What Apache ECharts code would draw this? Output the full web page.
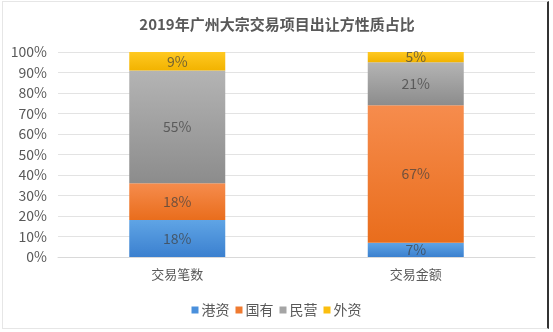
<!DOCTYPE html>
<html>
<head>
<meta charset="utf-8">
<script src="https://cdn.jsdelivr.net/npm/echarts@6/dist/echarts.min.js"></script>
<style>
  html, body { margin: 0; padding: 0; background: #fff; }
  #wrap { position: relative; width: 553px; height: 332px; overflow: hidden; }
  #chart { width: 553px; height: 332px; }
  #frame { position: absolute; left: 2px; top: 1px; width: 547px; height: 328px;
           border: 1px solid #e6e6e6; border-right: 2px solid #333; box-sizing: border-box; pointer-events: none; }
</style>
</head>
<body>
<div id="wrap">
  <div id="chart"></div>
  <div id="frame"></div>
</div>
<script>
// Categories and share (%) of each seller type
const categories = ['交易笔数', '交易金额'];
const seriesNames = ['港资', '国有', '民营', '外资'];
const hkCapital = [18, 7];
const stateOwned = [18, 67];
const privateOwned = [55, 21];
const foreignCapital = [9, 5];
const yTicks = [0, 10, 20, 30, 40, 50, 60, 70, 80, 90, 100];

const values = [hkCapital, stateOwned, privateOwned, foreignCapital];
const colorStops = [
  ['#5fa4e5', '#3b80cf'],
  ['#f68c4d', '#e96d1c'],
  ['#b4b4b4', '#8c8c8c'],
  ['#ffc922', '#f2b300']
];
const solid = ['#4a90dc', '#ef7a30', '#a5a5a5', '#fbbe0f'];
const textColor = '#595959';
const font = '"Noto Sans CJK SC", "Noto Sans", sans-serif';

const chart = echarts.init(document.getElementById('chart'), null, { renderer: 'canvas' });

const series = seriesNames.map((name, i) => ({
  name: name,
  type: 'bar',
  stack: 'total',
  barWidth: 96,
  data: values[i],
  itemStyle: {
    color: new echarts.graphic.LinearGradient(0, 0, 0, 1, [
      { offset: 0, color: colorStops[i][0] },
      { offset: 1, color: colorStops[i][1] }
    ])
  },
  emphasis: { disabled: true },
  label: {
    show: true,
    position: 'inside',
    formatter: '{c}%',
    color: 'rgba(64,64,64,0.72)',
    fontSize: 14,
    fontFamily: font
  }
}));

chart.setOption({
  animation: false,
  backgroundColor: '#fff',
  title: {
    text: '2019年广州大宗交易项目出让方性质占比',
    left: 272,
    textAlign: 'center',
    top: 12,
    textStyle: { color: textColor, fontSize: 15, fontWeight: 'bold', fontFamily: font }
  },
  legend: {
    data: seriesNames.map((n, i) => ({ name: n, itemStyle: { color: solid[i] } })),
    left: 'center',
    top: 298,
    icon: 'rect',
    itemWidth: 7,
    itemHeight: 7,
    itemGap: 6,
    textStyle: { color: textColor, fontSize: 14, fontFamily: font, padding: [0, 0, 0, -2] }
  },
  grid: { left: 58, right: 18, top: 52, bottom: 75, containLabel: false },
  xAxis: {
    type: 'category',
    data: categories,
    axisTick: { show: false },
    axisLine: { lineStyle: { color: '#d9d9d9' } },
    axisLabel: { color: textColor, fontSize: 13, fontFamily: font, margin: 11 }
  },
  yAxis: {
    type: 'value',
    min: yTicks[0],
    max: yTicks[yTicks.length - 1],
    interval: yTicks[1] - yTicks[0],
    axisLine: { show: false },
    axisTick: { show: false },
    splitLine: { lineStyle: { color: '#e3e3e3' } },
    axisLabel: { formatter: '{value}%', color: textColor, fontSize: 14, fontFamily: font, margin: 11 }
  },
  series: series
});
</script>
</body>
</html>
